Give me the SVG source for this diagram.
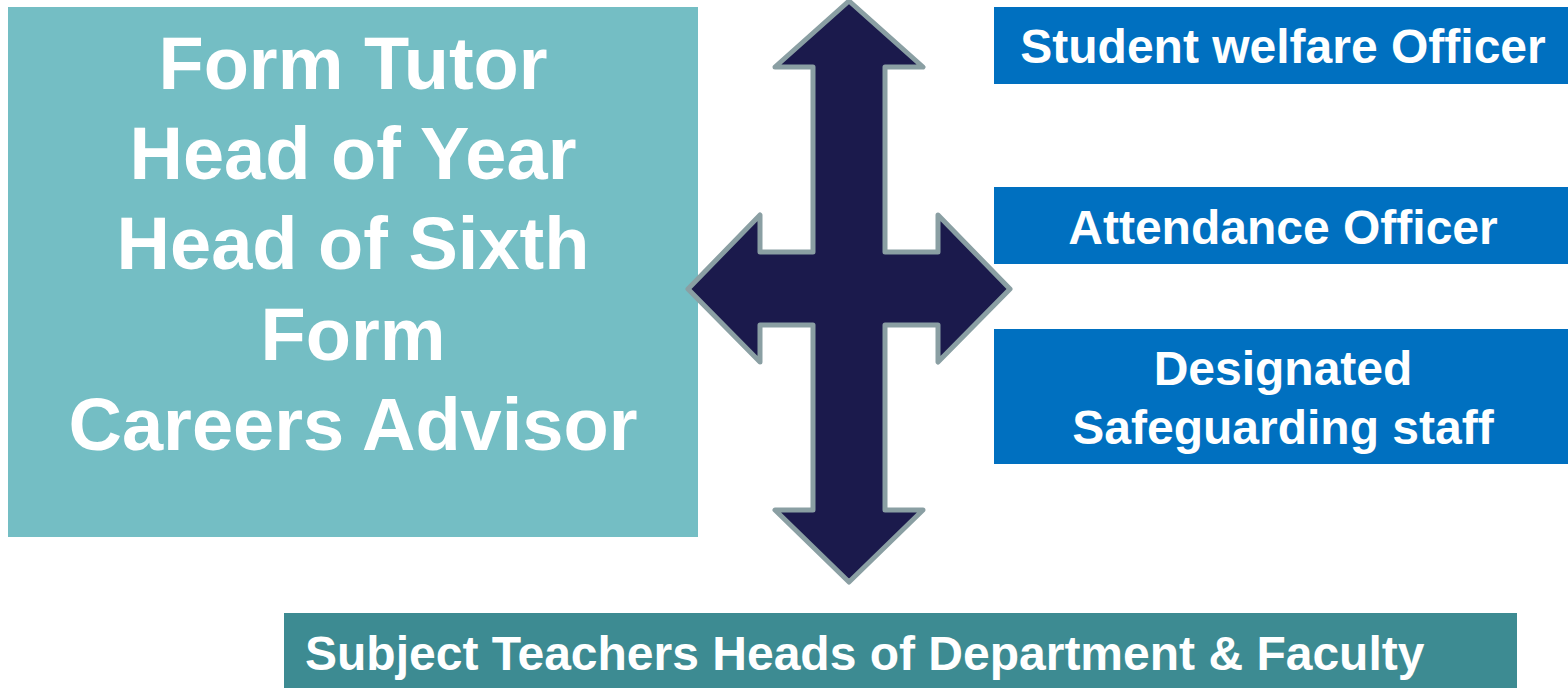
<svg xmlns="http://www.w3.org/2000/svg" width="1568" height="688" viewBox="0 0 1568 688">
<style>
.t{font-family:"Liberation Sans",Arial,sans-serif;font-weight:bold;fill:#FFFFFF;text-anchor:middle}
.big{font-size:74px}
.mid{font-size:48px}
</style>
<rect width="1568" height="688" fill="#FFFFFF"/>
<g id="left-box">
<rect x="8" y="7" width="690" height="530" fill="#74BEC4"/>
<text class="t big" x="353" y="89">Form Tutor</text>
<text class="t big" x="353" y="179">Head of Year</text>
<text class="t big" x="353" y="269">Head of Sixth</text>
<text class="t big" x="353" y="360">Form</text>
<text class="t big" x="353" y="450">Careers Advisor</text>
</g>
<g id="connectors">
<polygon points="849,1 923,67 885,67 885,252 938,252 938,215 1010,289 938,362 938,325 885,325 885,510 923,510 849,582 775,510 813,510 813,325 760,325 760,362 688,289 760,215 760,252 813,252 813,67 775,67" fill="#1B1A4C" stroke="#8A9FA3" stroke-width="5" stroke-linejoin="round"/>
</g>
<g id="welfare">
<rect x="994" y="7" width="574" height="77" fill="#0070C0"/>
<text class="t mid" x="1283" y="63">Student welfare Officer</text>
</g>
<g id="attendance">
<rect x="994" y="187" width="574" height="77" fill="#0070C0"/>
<text class="t mid" x="1283" y="244">Attendance Officer</text>
</g>
<g id="safeguarding">
<rect x="994" y="329" width="574" height="135" fill="#0070C0"/>
<text class="t mid" x="1283" y="385">Designated</text>
<text class="t mid" x="1283" y="444">Safeguarding staff</text>
</g>
<g id="subject">
<rect x="284" y="613" width="1233" height="75" fill="#3D8B92"/>
<text class="t mid" x="305" y="670" style="text-anchor:start">Subject Teachers Heads of Department &amp; Faculty</text>
</g>
</svg>
